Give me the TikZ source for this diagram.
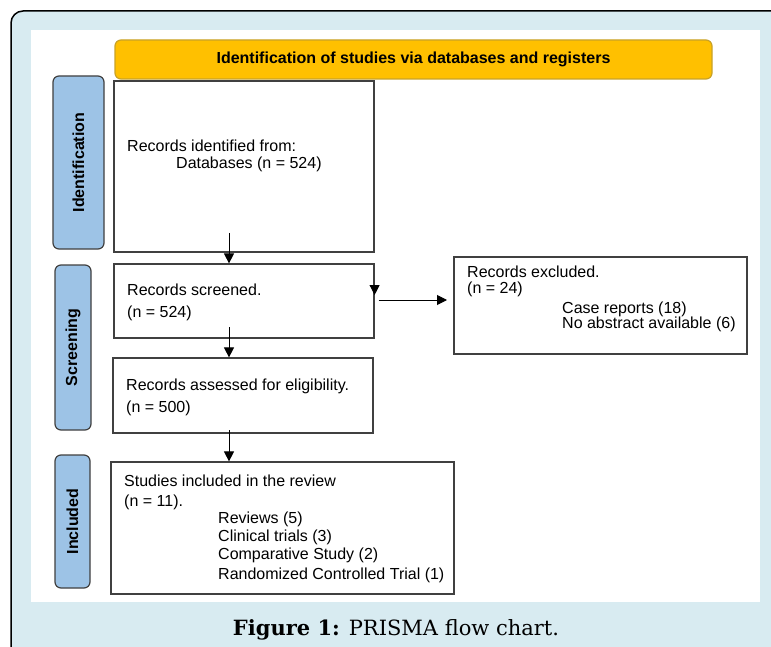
\documentclass[tikz,border=0pt]{standalone}
\usepackage{fontspec}
\setmainfont{Liberation Sans}
\newfontfamily\capfont{DejaVu Serif}
\usetikzlibrary{shapes,arrows,arrows.meta}
\definecolor{bgblue}{HTML}{D8EBF1}
\definecolor{bannerfill}{HTML}{FFC000}
\definecolor{bannerline}{HTML}{C9A227}
\definecolor{phasefill}{HTML}{9DC3E6}
\definecolor{boxline}{HTML}{404040}

\begin{document}
\begin{tikzpicture}[x=1pt,y=-1pt,
  box/.style={rectangle,draw=boxline,line width=1.2pt,inner sep=0pt},
  phase/.style={rectangle,draw=boxline,line width=1.2pt,fill=phasefill,rounded corners=6pt,rotate=90,inner sep=0pt,font=\fontsize{16}{19}\selectfont\bfseries},
  txt/.style={anchor=west,inner sep=0pt,text height=12pt,text depth=1pt,font=\fontsize{16}{19}\selectfont},
  flow/.style={line width=1pt,black,arrows={-Triangle[length=10pt,width=10pt]}}]
\useasboundingbox (0,0) rectangle (771,647);
\clip (0,0) rectangle (771,647);
%-------->frame<--------------
\draw[fill=bgblue,line width=1.5pt,rounded corners=12pt] (11,11) rectangle (800,700);
\fill[white] (31,30) rectangle (760,602);
%-------->banner and phases<--------------
\node[box,fill=bannerfill,draw=bannerline,rounded corners=6pt,minimum width=597pt,minimum height=39pt,font=\fontsize{16}{19}\selectfont\bfseries] (banner) at (413.5,59.5) {Identification of studies via databases and registers};
\node[phase,minimum width=173pt,minimum height=51pt] (idlab) at (78.5,162.5) {Identification};
\node[phase,minimum width=165pt,minimum height=36pt] (scrlab) at (73,347.5) {Screening};
\node[phase,minimum width=133pt,minimum height=35pt] (inclab) at (72.5,521.5) {Included};
%-------->boxes<--------------
\node[box,minimum width=260pt,minimum height=171pt] (ident) at (244,166.5) {};
\node[box,minimum width=260pt,minimum height=74pt] (screened) at (244,301) {};
\node[box,minimum width=260pt,minimum height=75pt] (elig) at (243,395.5) {};
\node[box,minimum width=343pt,minimum height=132pt] (incl) at (282.5,528) {};
\node[box,minimum width=293pt,minimum height=97pt] (excl) at (600.5,305.5) {};
%-------->box texts<--------------
\node[txt] (ida) at (127,146) {Records identified from:};
\node[txt] (idb) at (176,163) {Databases (n = 524)};
\node[txt] (scra) at (127,290) {Records screened.};
\node[txt] (scrb) at (127,312) {(n = 524)};
\node[txt] (elia) at (126,385) {Records assessed for eligibility.};
\node[txt] (elib) at (126,407) {(n = 500)};
\node[txt] (inca) at (124,481) {Studies included in the review};
\node[txt] (incb) at (124,501) {(n = 11).};
\node[txt] (incc) at (218,517.5) {Reviews (5)};
\node[txt] (incd) at (218,535.5) {Clinical trials (3)};
\node[txt] (ince) at (218,554) {Comparative Study (2)};
\node[txt] (incf) at (218,574) {Randomized Controlled Trial (1)};
\node[txt] (exa) at (467,272) {Records excluded.};
\node[txt] (exb) at (467,288) {(n = 24)};
\node[txt] (exc) at (562,308) {Case reports (18)};
\node[txt] (exd) at (562,323) {No abstract available (6)};
%-------->arrows<--------------
\coordinate (a1) at (229,233);
\coordinate (a2) at (229,327);
\coordinate (a3) at (229,430);
\coordinate (a4) at (447,300);
\draw[flow] (a1) -- (a1 |- screened.north);
\draw[flow] (a2) -- (a2 |- elig.north);
\draw[flow] (a3) -- (a3 |- incl.north);
\draw[flow] ([yshift=16pt]screened.east) -- ([yshift=6pt]screened.east);
\draw[flow] ([xshift=4pt,yshift=1pt]screened.east) -- (a4);
%-------->caption<--------------
\node[font=\capfont\fontsize{21}{24}\selectfont] (cap) at (396,630) {\textbf{Figure 1:} PRISMA flow chart.};
\end{tikzpicture}
\end{document}
